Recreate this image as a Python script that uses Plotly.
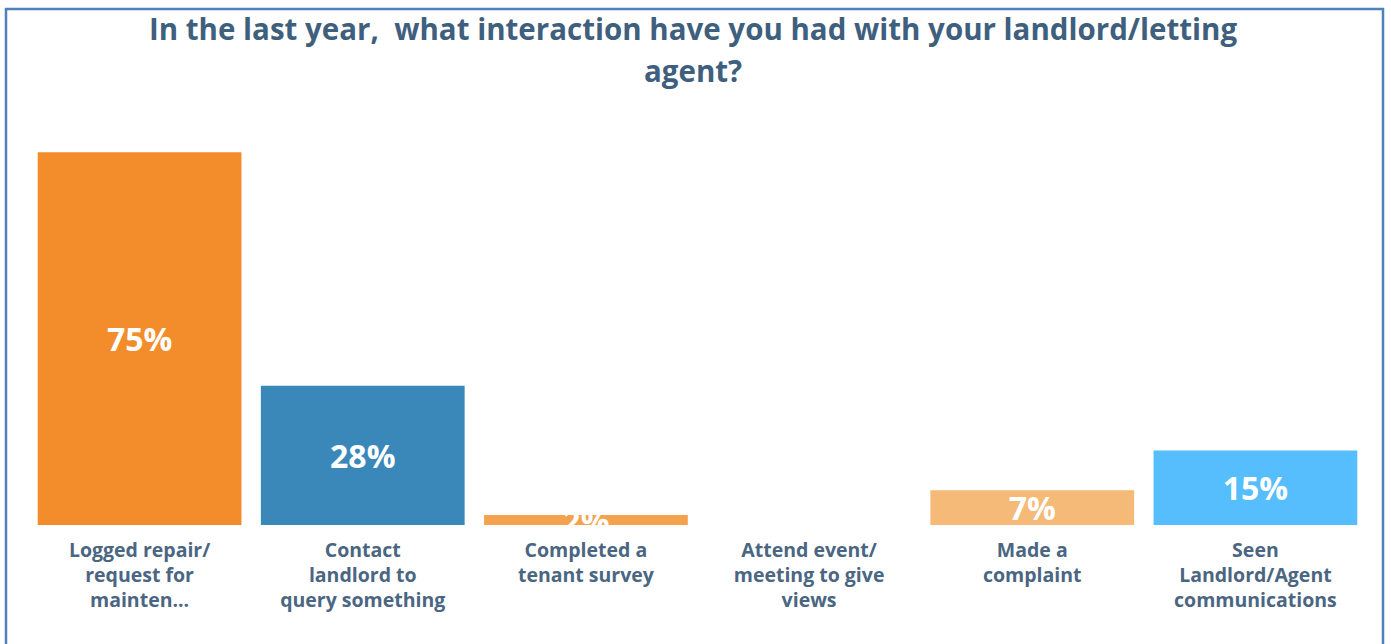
import plotly.graph_objects as go

# Survey results: share of tenants reporting each kind of interaction
categories = [
    "Logged repair/<br>request for<br>mainten...",
    "Contact<br>landlord to<br>query something",
    "Completed a<br>tenant survey",
    "Attend event/<br>meeting to give<br>views",
    "Made a<br>complaint",
    "Seen<br>Landlord/Agent<br>communications",
]
percentages = [75, 28, 2, 0, 7, 15]
bar_colors = ["#F38D2B", "#3A87BA", "#F5A24E", "#F5A24E", "#F5B978", "#56BEFC"]

title_lines = [
    "In the last year,  what interaction have you had with your landlord/letting",
    "agent?",
]

W, H = 1391, 644
ML, MR, MT, MB = 28, 24, 28, 119
FONT = "'Open Sans', 'Noto Sans', sans-serif"

fig = go.Figure(
    go.Bar(
        x=categories,
        y=percentages,
        marker=dict(color=bar_colors, line=dict(width=0)),
        text=[f"{v}%" for v in percentages],
        textposition="inside",
        insidetextanchor="middle",
        textangle=0,
        textfont=dict(family=FONT, size=32, color="white", weight="bold"),
        hoverinfo="x+y",
    )
)

fig.update_layout(
    width=W,
    height=H,
    margin=dict(l=ML, r=MR, t=MT, b=MB),
    paper_bgcolor="white",
    plot_bgcolor="white",
    bargap=0.087,
    showlegend=False,
    uniformtext=dict(mode="show", minsize=32),
    font=dict(family=FONT),
    xaxis=dict(
        showline=False,
        showgrid=False,
        zeroline=False,
        ticks="",
        ticklabelstandoff=11,
        tickfont=dict(family=FONT, size=19.5, color="#4A6682", weight="bold"),
    ),
    yaxis=dict(
        range=[0, 100],
        showticklabels=False,
        showgrid=False,
        zeroline=False,
        showline=False,
        ticks="",
    ),
)

pw = W - ML - MR
ph = H - MT - MB
def px_x(p):
    return (p - ML) / pw
def px_y(p):
    return (H - MB - p) / ph

# Two-line heading
for line, y_px in zip(title_lines, [28, 70]):
    fig.add_annotation(
        text=line,
        xref="paper",
        yref="paper",
        x=px_x(693),
        y=px_y(y_px),
        xanchor="center",
        yanchor="middle",
        showarrow=False,
        font=dict(family=FONT, size=29.5, color="#3F5F7E", weight="bold"),
    )

# Blue frame around the whole chart
fig.add_shape(
    type="rect",
    xref="paper",
    yref="paper",
    x0=px_x(6),
    x1=px_x(1383),
    y0=px_y(660),
    y1=px_y(9),
    line=dict(color="#4F81BD", width=2.5),
    fillcolor="rgba(0,0,0,0)",
    layer="above",
)

fig.write_html("out.html")
